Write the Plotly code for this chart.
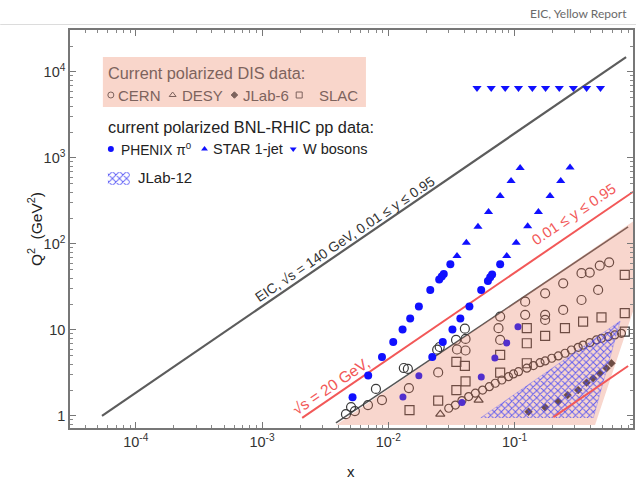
import plotly.graph_objects as go

# Figure geometry (px): plot-area edges, used for legend/labels placement
W, H = 638, 479
PL, PR, PT, PB = 70, 635, 30, 428

# ---------------- data ----------------
# kinematic limits
eic_line_x = [5.4e-5, 0.764]
eic_line_q2 = [1.0, 14900]
s20_upper_x = [2.08e-3, 0.87]
s20_upper_q2 = [0.95, 405]
s20_lower_x = [0.203, 0.793]
s20_lower_q2 = [0.97, 3.81]
dis_edge_x = [3.85e-3, 0.793]
dis_edge_q2 = [0.83, 158]

# shaded regions
dis_region_x = [3.85e-3, 0.9, 0.9, 0.434]
dis_region_q2 = [0.785, 190, 19.5, 0.785]
jlab12_x = [0.0538, 0.686, 0.42]
jlab12_q2 = [0.95, 12.7, 0.95]

# polarized DIS data
cern_x = [0.00462, 0.00507, 0.00544, 0.0069, 0.00798, 0.00891, 0.01327, 0.01429,
          0.01456, 0.02438, 0.02553, 0.02483, 0.0344, 0.0350, 0.0404, 0.0409,
          0.0409, 0.0769, 0.0746, 0.0769, 0.1213, 0.1213, 0.1746, 0.1746,
          0.1746, 0.2427, 0.2427, 0.339, 0.394, 0.339, 0.473, 0.561, 0.459]
cern_q2 = [1.05, 1.27, 1.14, 1.34, 2.06, 1.53, 3.61, 3.52,
           2.11, 5.90, 6.34, 3.21, 7.66, 5.93, 10.35, 7.87,
           5.77, 14.3, 10.5, 7.66, 21.3, 15.0, 26.7, 15.0,
           13.1, 34.9, 17.1, 45.7, 46.5, 22.3, 56.0, 61.2, 29.2]
cern_band_x = [0.0301, 0.0340, 0.0383, 0.0433, 0.0489, 0.0558, 0.0631, 0.0703,
               0.0793, 0.0895, 0.0980, 0.1074, 0.125, 0.141, 0.159, 0.1746,
               0.197, 0.222, 0.251, 0.282, 0.319, 0.349, 0.394, 0.445,
               0.488, 0.551, 0.622, 0.702]
cern_band_q2 = [1.23, 1.34, 1.51, 1.68, 1.84, 2.00, 2.19, 2.40,
                2.62, 2.86, 3.08, 3.27, 3.59, 3.85, 4.17, 4.36,
                4.69, 4.99, 5.36, 5.85, 6.29, 6.68, 7.11, 7.66,
                8.00, 8.36, 8.75, 9.15]
desy_x = [0.0258, 0.0519]
desy_q2 = [1.05, 1.53]
jlab6_x = [0.129, 0.1746, 0.222, 0.263, 0.319, 0.372, 0.419, 0.473, 0.535, 0.585]
jlab6_q2 = [1.12, 1.26, 1.47, 1.75, 2.00, 2.44, 2.74, 3.13, 3.59, 4.10]
slac_x = [0.01472, 0.02483, 0.0346, 0.0346, 0.0404, 0.0409, 0.0769, 0.0769,
          0.125, 0.125, 0.1746, 0.2506, 0.349, 0.488, 0.746, 0.746, 0.746, 0.125]
slac_q2 = [1.17, 1.51, 4.25, 2.00, 3.82, 2.52, 5.12, 3.19,
           7.01, 4.10, 8.53, 10.5, 12.5, 14.0, 43.6, 15.7, 9.55, 10.5]

# polarized pp data (RHIC)
phenix_x = [0.00521, 0.00693, 0.00891, 0.01094, 0.01297, 0.0149, 0.01746, 0.0215,
            0.0253, 0.0265, 0.0275, 0.0310,
            0.0223, 0.0270, 0.0322, 0.0372, 0.0439, 0.0544, 0.0615, 0.0641,
            0.0664, 0.0769]
phenix_q2 = [1.65, 2.96, 4.85, 7.25, 10.1, 13.6, 18.7, 29.2,
             38.7, 41.9, 44.8, 58.2,
             4.85, 7.25, 10.1, 13.6, 18.7, 29.2, 37.1, 41.0,
             44.2, 58.1]
phenix_low_x = [0.01306, 0.01746, 0.0383, 0.0545, 0.0698, 0.0867, 0.1064]
phenix_low_q2 = [1.66, 2.94, 1.43, 2.84, 4.72, 7.06, 10.9]
star_x = [0.0350, 0.0415, 0.0513, 0.0622, 0.0769, 0.0938, 0.1107,
          0.0867, 0.103, 0.127, 0.1545, 0.191, 0.232, 0.275]
star_q2 = [72.5, 103.5, 159, 235, 362, 540, 765,
           72.5, 103.5, 161, 235, 362, 540, 775]
w_x = [0.0504, 0.0653, 0.0843, 0.1074, 0.1383, 0.176, 0.226, 0.292, 0.372, 0.479]
w_q2 = [6500] * len(w_x)

# axis ticks
x_tickvals = [1e-4, 1e-3, 1e-2, 1e-1]
x_ticktext = ["10<sup>-4</sup>", "10<sup>-3</sup>", "10<sup>-2</sup>", "10<sup>-1</sup>"]
y_tickvals = [1, 10, 100, 1000, 10000]
y_ticktext = ["1", "10", "10<sup>2</sup>", "10<sup>3</sup>", "10<sup>4</sup>"]

# ---------------- styles ----------------
FONT = "Liberation Sans, Arial, Helvetica, sans-serif"
BLUE = "#1010ff"
DARK = "#3a3a3a"
RED = "#f25858"
PINK_OVER = "rgba(232,120,90,0.30)"
PINK_BOX = "#f9d6cb"
DIS_TXT = "#7d635d"
HATCH = dict(shape="x", fgcolor="rgba(70,70,245,0.85)", bgcolor="rgba(0,0,0,0)",
             size=5, solidity=0.35, fillmode="replace")


def paper(xp, yp):
    return (xp - PL) / (PR - PL), (PB - yp) / (PB - PT)


fig = go.Figure()


def line(x, y, color, width):
    fig.add_trace(go.Scatter(x=x, y=y, mode="lines", line=dict(color=color, width=width),
                             hoverinfo="skip", showlegend=False))


def pts(x, y, symbol, color, size, lw=1.2):
    fig.add_trace(go.Scatter(x=x, y=y, mode="markers", hoverinfo="skip", showlegend=False,
                             marker=dict(symbol=symbol, color=color, size=size,
                                         line=dict(color=color, width=lw))))


# lines and data lying underneath the shaded DIS region
line(dis_edge_x, dis_edge_q2, "#555555", 1.6)
pts(cern_x, cern_q2, "circle-open", DARK, 9)
pts(cern_band_x, cern_band_q2, "circle-open", DARK, 8)
pts(slac_x, slac_q2, "square-open", DARK, 9)
pts(desy_x, desy_q2, "triangle-up-open", DARK, 8)
pts(jlab6_x, jlab6_q2, "diamond", DARK, 6, 0.5)
pts(phenix_low_x, phenix_low_q2, "circle", BLUE, 7, 0)

# shaded DIS region (translucent) and JLab-12 hatched region
fig.add_trace(go.Scatter(x=dis_region_x, y=dis_region_q2, mode="lines", fill="toself",
                         fillcolor=PINK_OVER, line=dict(width=0), hoverinfo="skip",
                         showlegend=False))
fig.add_trace(go.Scatter(x=jlab12_x, y=jlab12_q2, mode="lines", fill="toself",
                         fillcolor="rgba(0,0,0,0)", fillpattern=HATCH,
                         line=dict(width=0.6, color="rgba(90,90,255,0.5)"),
                         hoverinfo="skip", showlegend=False))

# kinematic limit lines
line(s20_upper_x, s20_upper_q2, RED, 2)
line(s20_lower_x, s20_lower_q2, RED, 2)
line(eic_line_x, eic_line_q2, "#5c5c5c", 2.2)

# RHIC data
pts(phenix_x, phenix_q2, "circle", BLUE, 8, 0)
pts(star_x, star_q2, "triangle-up", BLUE, 8, 0)
pts(w_x, w_q2, "triangle-down", BLUE, 8, 0)

# ---------------- legend (pixel-space overlay axes) ----------------
def glyph(xp, yp, symbol, color, size, lw=1.0):
    fig.add_trace(go.Scatter(x=[xp], y=[yp], mode="markers", xaxis="x3", yaxis="y3",
                             hoverinfo="skip", showlegend=False,
                             marker=dict(symbol=symbol, color=color, size=size,
                                         line=dict(color=color, width=lw))))


glyph(111, 95, "circle-open", DIS_TXT, 6)
glyph(173, 95, "triangle-up-open", DIS_TXT, 6)
glyph(235, 95, "diamond", DIS_TXT, 5)
glyph(300, 95, "square-open", DIS_TXT, 6)
glyph(111, 149, "circle", BLUE, 6, 0)
glyph(205, 149, "triangle-up", BLUE, 6, 0)
glyph(294, 149, "triangle-down", BLUE, 6, 0)
fig.add_trace(go.Scatter(x=[108, 130, 130, 108, 108], y=[172, 172, 185, 185, 172],
                         mode="lines", fill="toself", fillcolor="rgba(0,0,0,0)",
                         fillpattern=HATCH, line=dict(width=0), xaxis="x3", yaxis="y3",
                         hoverinfo="skip", showlegend=False))

shapes = [dict(type="rect", xref="x3", yref="y3", x0=103, x1=367, y0=57, y1=107,
               fillcolor=PINK_BOX, line=dict(width=0), layer="below"),
          dict(type="line", xref="paper", yref="paper",
               x0=paper(0, 0)[0], x1=paper(638, 0)[0],
               y0=paper(0, 24.5)[1], y1=paper(0, 24.5)[1],
               line=dict(color="#dcdcdc", width=1))]

annotations = []


def text(xp, yp, s, size, color, anchor="left", angle=0, family=FONT):
    x, y = paper(xp, yp)
    annotations.append(dict(x=x, y=y, xref="paper", yref="paper", text=s, showarrow=False,
                            xanchor=anchor, yanchor="middle", textangle=angle,
                            font=dict(family=family, size=size, color=color)))


text(106, 73, "Current polarized DIS data:", 16.3, DIS_TXT)
text(116, 95, "CERN", 15, DIS_TXT)
text(180, 95, "DESY", 15, DIS_TXT)
text(242, 95, "JLab-6", 15, DIS_TXT)
text(318, 95, "SLAC", 15, DIS_TXT)
text(106, 127, "current polarized BNL-RHIC pp data:", 16.3, "#222222")
text(119, 149, "PHENIX π<sup>0</sup>", 13.8, "#222222")
text(212, 149, "STAR 1-jet", 14.5, "#222222")
text(302, 149, "W bosons", 14.5, "#222222")
text(136, 178, "JLab-12", 15, "#222222")

# line labels
text(346, 240, "EIC, √s = 140 GeV, 0.01 ≤ y ≤ 0.95", 13.8, "#333333", "center", -34)
text(331, 386, "√s = 20 GeV,", 15.5, RED, "center", -34)
text(576, 214, "0.01 ≤ y ≤ 0.95", 14.8, RED, "center", -34)

# axis titles
text(352, 471, "x", 15, "#222222", "center")
text(35, 229, "Q<sup>2</sup>  (GeV<sup>2</sup>)", 15.5, "#222222", "center", -90)

# header
text(631, 13, "EIC, Yellow Report", 12, "#6a6a6a", "right", 0, "Lato, Open Sans, sans-serif")

axis_common = dict(type="log", showgrid=False, zeroline=False, showline=True,
                   linecolor="#777777", linewidth=1.5, mirror="ticks", ticks="inside",
                   ticklen=6, tickwidth=1.2, tickcolor="#777777",
                   tickfont=dict(family=FONT, size=14.5, color="#333333"),
                   minor=dict(ticks="inside", ticklen=3, tickcolor="#888888",
                              dtick="D1", showgrid=False))

fig.update_layout(
    width=W, height=H, autosize=False,
    margin=dict(l=PL, r=W - PR, t=PT, b=H - PB),
    paper_bgcolor="white", plot_bgcolor="white",
    xaxis=dict(range=[-4.521, -0.062], tickvals=x_tickvals, ticktext=x_ticktext,
               **axis_common),
    yaxis=dict(range=[-0.140, 4.488], tickvals=y_tickvals, ticktext=y_ticktext,
               **axis_common),
    xaxis3=dict(overlaying="x", range=[PL, PR], visible=False, fixedrange=True),
    yaxis3=dict(overlaying="y", range=[PB, PT], visible=False, fixedrange=True),
    shapes=shapes, annotations=annotations, showlegend=False,
)

fig.write_html("out.html")
